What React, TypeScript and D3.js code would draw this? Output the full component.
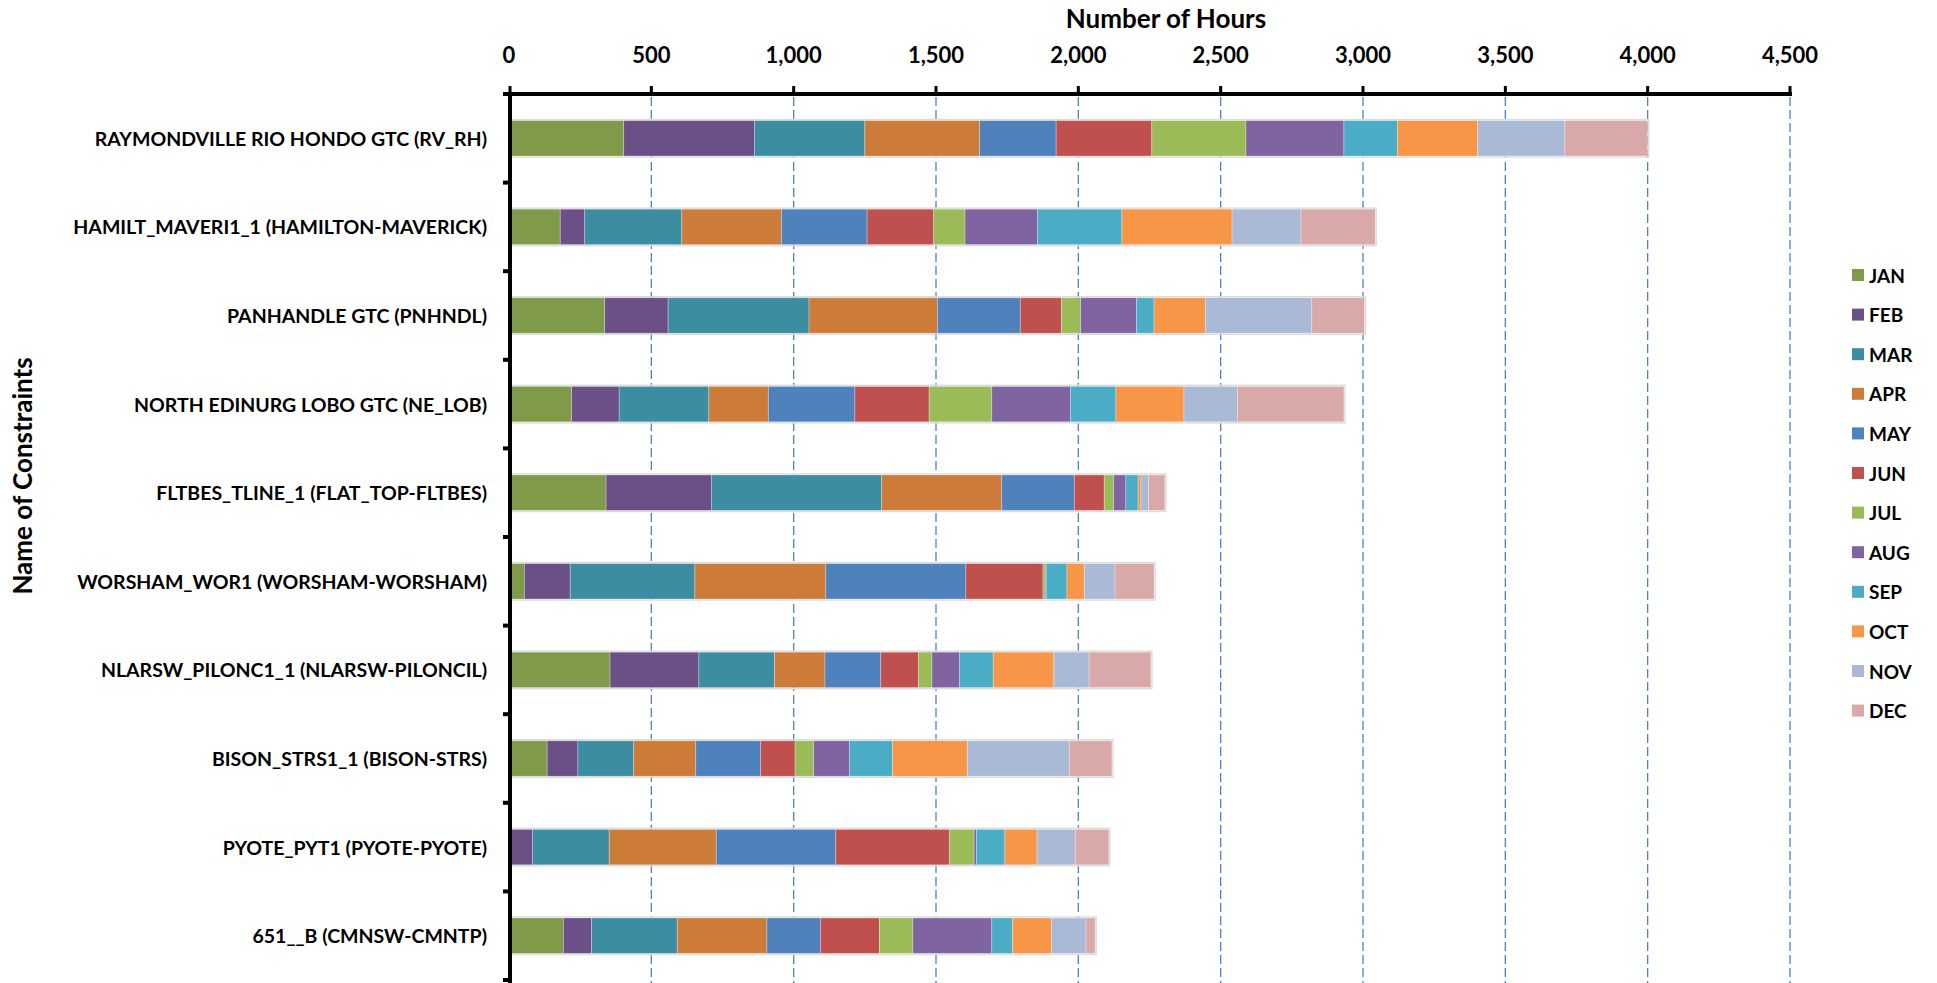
import React from "react";
import * as d3 from "d3";

const categories = [
  "RAYMONDVILLE RIO HONDO GTC (RV_RH)",
  "HAMILT_MAVERI1_1 (HAMILTON-MAVERICK)",
  "PANHANDLE GTC (PNHNDL)",
  "NORTH EDINURG LOBO GTC (NE_LOB)",
  "FLTBES_TLINE_1 (FLAT_TOP-FLTBES)",
  "WORSHAM_WOR1 (WORSHAM-WORSHAM)",
  "NLARSW_PILONC1_1 (NLARSW-PILONCIL)",
  "BISON_STRS1_1 (BISON-STRS)",
  "PYOTE_PYT1 (PYOTE-PYOTE)",
  "651__B (CMNSW-CMNTP)",
];

const months = ["JAN", "FEB", "MAR", "APR", "MAY", "JUN", "JUL", "AUG", "SEP", "OCT", "NOV", "DEC"];

const jan = [403, 180, 336, 220, 341, 54, 355, 134, 0, 191];
const feb = [460, 86, 223, 167, 371, 161, 312, 108, 83, 99];
const mar = [387, 341, 495, 315, 597, 438, 266, 196, 269, 301];
const apr = [403, 350, 451, 209, 422, 460, 177, 218, 376, 315];
const may = [269, 301, 291, 304, 255, 492, 196, 228, 420, 188];
const jun = [336, 234, 145, 261, 105, 271, 132, 121, 400, 207];
const jul = [331, 110, 67, 220, 33, 8, 48, 65, 86, 118];
const aug = [344, 255, 196, 277, 43, 3, 97, 126, 8, 277];
const sep = [188, 296, 62, 159, 43, 73, 118, 151, 100, 73];
const oct = [282, 387, 180, 239, 10, 61, 213, 263, 113, 137];
const nov = [306, 242, 374, 188, 27, 108, 124, 358, 134, 121];
const dec = [291, 261, 185, 374, 57, 137, 217, 150, 118, 32];

const seriesValues = [jan, feb, mar, apr, may, jun, jul, aug, sep, oct, nov, dec];

const colors = [
  "#7f9a48", "#6a5086", "#3c8ca2", "#cc7b38", "#4f81bd", "#c0504d",
  "#9bbb59", "#8064a2", "#4bacc6", "#f79646", "#aab9d6", "#d9a9a9",
];

const xTicks = [0, 500, 1000, 1500, 2000, 2500, 3000, 3500, 4000, 4500];

const FONT = "Lato, 'Open Sans', sans-serif";

export default function App() {
  const W = 1937;
  const H = 983;
  const x = d3.scaleLinear().domain([0, 4500]).range([509, 1790]);
  const y = d3.scaleBand<string>().domain(categories).range([94, 980]).padding(0);
  const bw = y.bandwidth();
  const barH = bw * 0.4;
  const barOff = bw * 0.3;

  const table = categories.map((c, i) => {
    const row: any = { cat: c };
    months.forEach((m, j) => (row[m] = seriesValues[j][i]));
    return row;
  });
  const stacked = d3.stack<any>().keys(months)(table);
  const fmt = d3.format(",");

  return (
    <div style={{ position: "absolute", left: 0, top: 0, background: "#fff" }}>
      <svg width={W} height={H} style={{ display: "block" }}>
        <rect x={0} y={0} width={W} height={H} fill="#fff" />
        {/* gridlines */}
        {xTicks.slice(1).map((t) => (
          <line key={"g" + t} x1={x(t)} x2={x(t)} y1={97} y2={H} stroke="#4f81c4" strokeWidth={1.3} strokeDasharray="9,4" />
        ))}
        {/* bar outlines */}
        {categories.map((c, i) => {
          const total = d3.sum(seriesValues, (s) => s[i]);
          return (
            <rect key={"o" + c} x={x(0)} y={(y(c) as number) + barOff - 1} width={x(total) - x(0) + 1} height={barH + 2} fill="none" stroke="#dcdcdc" strokeWidth={1.5} />
          );
        })}
        {/* bars */}
        {stacked.map((s, j) => (
          <g key={s.key} fill={colors[j]}>
            {s.map((d, i) => (
              <rect key={i} x={x(d[0])} y={(y(categories[i]) as number) + barOff} width={Math.max(0, x(d[1]) - x(d[0]))} height={barH} stroke="rgba(255,255,255,0.35)" strokeWidth={0.8} />
            ))}
          </g>
        ))}
        {/* top axis */}
        <line x1={503} x2={1792} y1={94} y2={94} stroke="#000" strokeWidth={4} />
        {xTicks.map((t) => (
          <g key={"t" + t}>
            <line x1={x(t) + (t === 0 ? 1 : 0)} x2={x(t) + (t === 0 ? 1 : 0)} y1={86} y2={94} stroke="#000" strokeWidth={3} />
            <text x={x(t)} y={63} textAnchor="middle" fontFamily={FONT} fontWeight="bold" fontSize={22} fill="#000">
              {fmt(t)}
            </text>
          </g>
        ))}
        {/* left axis */}
        <line x1={510} x2={510} y1={92} y2={H} stroke="#000" strokeWidth={4} />
        {categories.map((c) => (
          <line key={"ct" + c} x1={503} x2={510} y1={(y(c) as number) + bw} y2={(y(c) as number) + bw} stroke="#000" strokeWidth={4} />
        ))}
        {categories.map((c) => (
          <text key={"cl" + c} x={487} y={(y(c) as number) + bw / 2} textAnchor="end" dominantBaseline="central" fontFamily={FONT} fontWeight="bold" fontSize={19.5} fill="#000">
            {c}
          </text>
        ))}
        {/* titles */}
        <text x={1166} y={28} textAnchor="middle" fontFamily={FONT} fontWeight="bold" fontSize={26} fill="#000">
          Number of Hours
        </text>
        <text transform="translate(32,476) rotate(-90)" textAnchor="middle" fontFamily={FONT} fontWeight="bold" fontSize={26} fill="#000">
          Name of Constraints
        </text>
        {/* legend */}
        {months.map((m, j) => (
          <g key={"l" + m} transform={`translate(0,${275 + j * 39.6})`}>
            <rect x={1852} y={-6} width={12} height={12} fill={colors[j]} />
            <text x={1869} y={0} dominantBaseline="central" fontFamily={FONT} fontWeight="bold" fontSize={19} fill="#000">
              {m}
            </text>
          </g>
        ))}
      </svg>
    </div>
  );
}
